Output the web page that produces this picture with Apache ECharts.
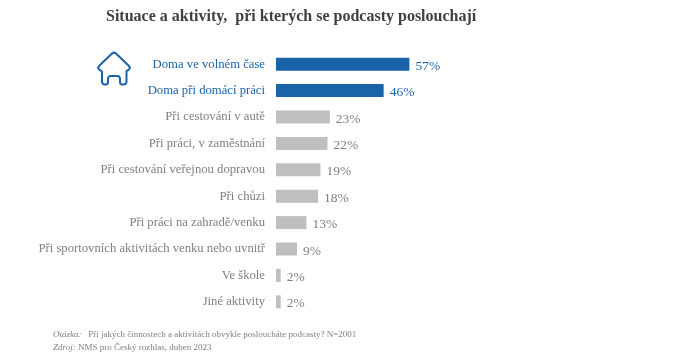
<!DOCTYPE html>
<html>
<head>
<meta charset="utf-8">
<script src="https://cdn.jsdelivr.net/npm/echarts@6/dist/echarts.min.js"></script>
<style>
  html, body { margin: 0; padding: 0; background: #fff; }
  #chart { width: 700px; height: 357px; }
</style>
</head>
<body>
<div id="chart"></div>
<script>
const categories = [
  'Doma ve volném čase',
  'Doma při domácí práci',
  'Při cestování v autě',
  'Při práci, v zaměstnání',
  'Při cestování veřejnou dopravou',
  'Při chůzi',
  'Při práci na zahradě/venku',
  'Při sportovních aktivitách venku nebo uvnitř',
  'Ve škole',
  'Jiné aktivity'
];
const values = [57, 46, 23, 22, 19, 18, 13, 9, 2, 2];
const highlighted = 2; // prvni dva radky jsou modre

const blue = '#1a63a9';
const grey = '#bfbfbf';
const serif = '"Liberation Serif", "DejaVu Serif", serif';

const myChart = echarts.init(document.getElementById('chart'));
myChart.setOption({
  animation: false,
  title: {
    text: 'Situace a aktivity,  při kterých se podcasty poslouchají',
    left: 101,
    top: 4,
    textStyle: { color: '#404040', fontFamily: serif, fontWeight: 'bold', fontSize: 16 }
  },
  grid: { left: 276, top: 51, width: 234, height: 264 },
  xAxis: { type: 'value', min: 0, max: 100, show: false },
  yAxis: {
    type: 'category',
    inverse: true,
    data: categories,
    axisLine: { show: false },
    axisTick: { show: false },
    axisLabel: {
      interval: 0,
      margin: 11,
      fontFamily: serif,
      fontSize: 12.7,
      padding: [0, 0, 8, 0],
      color: function (v, i) { return i < highlighted ? blue : '#808080'; }
    }
  },
  series: [{
    type: 'bar',
    barWidth: 13,
    data: values.map(function (v, i) {
      return {
        value: v,
        itemStyle: { color: i < highlighted ? blue : grey },
        label: { color: i < highlighted ? blue : '#808080' }
      };
    }),
    label: {
      show: true,
      position: 'right',
      distance: 6,
      offset: [0, 2],
      formatter: '{c}%',
      fontFamily: serif,
      fontSize: 13.5
    }
  }],
  graphic: [
    {
      // ikona domu
      type: 'polyline',
      shape: {
        points: [[102, 71], [99.5, 70], [98, 68], [99, 66], [112, 53.5], [114, 52.5], [116, 53.5], [129, 66], [130, 68], [128.5, 70], [126.5, 71], [126.5, 82], [125.5, 84], [123.5, 84.5], [122, 84.5], [120.5, 84], [120, 82], [120, 78], [119, 76.5], [117.5, 76], [110.5, 76], [109, 76.5], [108, 78], [108, 82], [107.5, 84], [106, 84.5], [104.5, 84.5], [103, 84], [102, 82], [102, 71]]
      },
      style: { fill: 'none', stroke: blue, lineWidth: 2, lineJoin: 'round' }
    },
    {
      type: 'text', left: 53, top: 330,
      style: {
        text: '{i|Otázka:}   Při jakých činnostech a aktivitách obvykle posloucháte podcasty? N=2001',
        rich: { i: { fontStyle: 'italic', fontFamily: serif, fontSize: 9, fill: '#7f7f7f' } },
        fontFamily: serif, fontSize: 9, fill: '#7f7f7f'
      }
    },
    {
      type: 'text', left: 53, top: 343,
      style: {
        text: '{i|Zdroj:} NMS pro Český rozhlas, duben 2023',
        rich: { i: { fontStyle: 'italic', fontFamily: serif, fontSize: 9, fill: '#7f7f7f' } },
        fontFamily: serif, fontSize: 9, fill: '#7f7f7f'
      }
    }
  ]
});
</script>
</body>
</html>
